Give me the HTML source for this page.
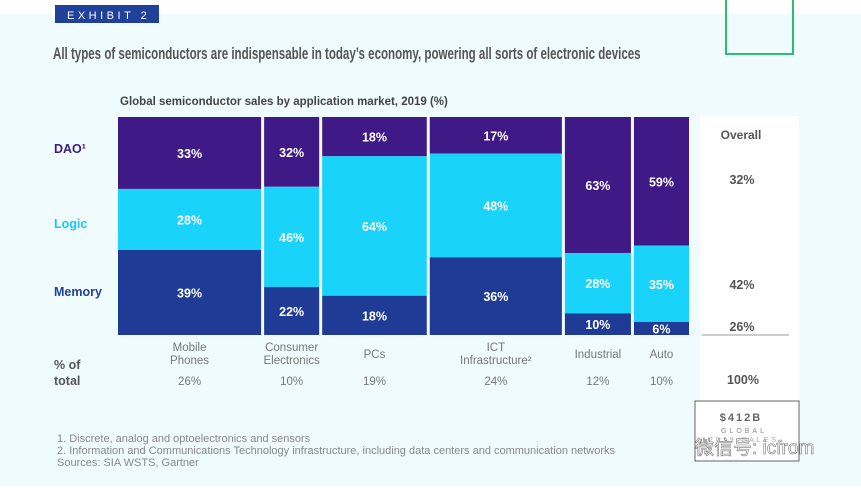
<!DOCTYPE html>
<html><head><meta charset="utf-8"><style>
body{margin:0;width:861px;height:486px;overflow:hidden;background:#fff;font-family:"Liberation Sans",sans-serif}
</style></head><body>
<svg width="861" height="486" xmlns="http://www.w3.org/2000/svg" font-family="Liberation Sans, sans-serif">
<rect x="0" y="14" width="861" height="472" fill="#effbfd"/>
<rect x="726" y="-2" width="67" height="56" fill="none" stroke="#2cbf74" stroke-width="2"/>
<rect x="55" y="5" width="104" height="18" fill="#21409a"/>
<text x="67" y="19" fill="#fff" font-size="11" letter-spacing="3.5">EXHIBIT 2</text>
<text x="53" y="59" fill="#555" font-size="17" font-weight="bold" transform="translate(53,0) scale(0.68,1) translate(-53,0)">All types of semiconductors are indispensable in today’s economy, powering all sorts of electronic devices</text>
<text x="120" y="105" fill="#444" font-size="11.5" font-weight="bold">Global semiconductor sales by application market, 2019 (%)</text>
<text x="54" y="153" fill="#3f1a87" font-size="12.5" font-weight="bold">DAO¹</text>
<text x="54" y="228" fill="#17c8f0" font-size="12.5" font-weight="bold">Logic</text>
<text x="54" y="296" fill="#21409a" font-size="12.5" font-weight="bold">Memory</text>
<text fill="#555" font-size="12.5" font-weight="bold"><tspan x="54" y="369">% of</tspan><tspan x="54" y="385">total</tspan></text>
<rect x="700" y="116" width="99" height="285" fill="#fff"/>
<text x="741" y="139" text-anchor="middle" fill="#555" font-size="12" font-weight="bold">Overall</text>
<text x="742" y="184" text-anchor="middle" fill="#555" font-size="12.5" font-weight="bold">32%</text>
<text x="742" y="289" text-anchor="middle" fill="#555" font-size="12.5" font-weight="bold">42%</text>
<text x="742" y="331" text-anchor="middle" fill="#555" font-size="12.5" font-weight="bold">26%</text>
<line x1="702" y1="335" x2="789" y2="335" stroke="#999" stroke-width="1"/>
<text x="743" y="384" text-anchor="middle" fill="#555" font-size="12.5" font-weight="bold">100%</text>
<rect x="695" y="401" width="104" height="60" fill="#fff" stroke="#666"/>
<text x="741" y="421" text-anchor="middle" fill="#666" font-size="11" font-weight="bold" letter-spacing="2">$412B</text>
<text x="744" y="433" text-anchor="middle" fill="#888" font-size="7" letter-spacing="3">GLOBAL</text>
<text x="744" y="442" text-anchor="middle" fill="#aaa" font-size="7" letter-spacing="3">2019 SALES</text>
<g id="bars"></g>
<g fill="#888" font-size="11">
<text x="57" y="442">1. Discrete, analog and optoelectronics and sensors</text>
<text x="57" y="454">2. Information and Communications Technology infrastructure, including data centers and communication networks</text>
<text x="57" y="466">Sources: SIA WSTS, Gartner</text>
</g>
<text x="695" y="454" fill="#fff" stroke="#777" stroke-width="0.6" font-size="19" font-family="Liberation Sans, Noto Sans CJK SC, sans-serif">微信号: icfrom</text>
</svg>
<script>
const categories=[["Mobile","Phones"],["Consumer","Electronics"],["PCs"],["ICT","Infrastructure²"],["Industrial"],["Auto"]];
const shares=[26,10,19,24,12,10];
const dao=[33,32,18,17,63,59];
const logic=[28,46,64,48,28,35];
const memory=[39,22,18,36,10,6];
const colors={dao:"#3f1a87",logic:"#19d3fb",memory:"#1f3b96"};
const NS="http://www.w3.org/2000/svg";
const g=document.getElementById('bars');
const X0=118,X1=689,GAP=3,Y0=117,Y1=335;
const totalShare=shares.reduce((a,b)=>a+b,0);
const unit=(X1-X0-GAP*(shares.length-1))/totalShare;
function mk(tag,attrs){const e=document.createElementNS(NS,tag);for(const k in attrs)e.setAttribute(k,attrs[k]);return e;}
let x=X0;
categories.forEach((cat,i)=>{
  const w=shares[i]*unit;
  const sum=dao[i]+logic[i]+memory[i];
  const yScale=p=>p/sum*(Y1-Y0);
  let y=Y0;
  [["dao",dao[i]],["logic",logic[i]],["memory",memory[i]]].forEach(([k,v])=>{
    const h=yScale(v);
    const r=mk('rect',{x:x,y:y,width:w,height:h,fill:colors[k]});
    
    
    g.appendChild(r);
    const t=mk('text',{x:x+w/2,y:y+h/2+5,'text-anchor':'middle',fill:'#fff','font-size':'12.5','font-weight':'bold'});
    t.textContent=v+'%';
    
    
    g.appendChild(t);
    y+=h;
  });
  const cx=x+w/2;
  const lab=mk('text',{'text-anchor':'middle',fill:'#777','font-size':'11.5'});
  
  
  if(cat.length===2){
    [0,1].forEach(j=>{const s=mk('tspan',{x:cx,y:351+j*13});s.textContent=cat[j];lab.appendChild(s);});
  } else {
    const s=mk('tspan',{x:cx,y:358});s.textContent=cat[0];lab.appendChild(s);
  }
  g.appendChild(lab);
  const st=mk('text',{x:cx,y:385,'text-anchor':'middle',fill:'#777','font-size':'11.5'});
  st.textContent=shares[i]+'%';
  
  
  g.appendChild(st);
  x+=w+GAP;
});
</script>
</body></html>
